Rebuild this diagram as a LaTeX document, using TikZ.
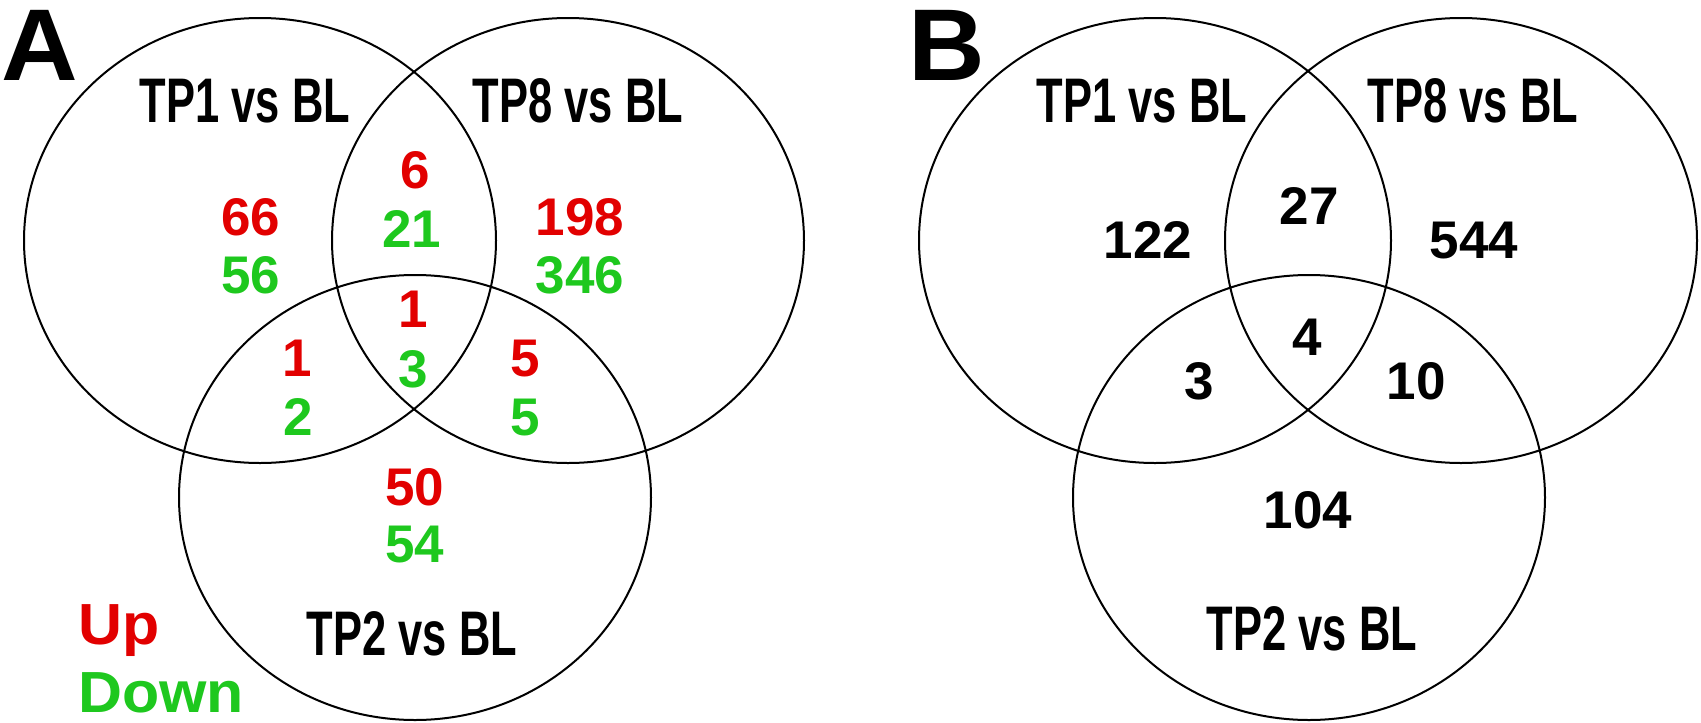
\documentclass[tikz,border=0pt]{standalone}
\usepackage{fontspec}
\setmainfont{Liberation Sans}
\newfontfamily\digf{Liberation Sans}
\newfontfamily\legf{Liberation Sans}[FakeStretch=1.05]
\newfontfamily\labf{Liberation Sans}[FakeStretch=0.69]
\newfontfamily\letf{Liberation Sans}[FakeStretch=1.04]
\definecolor{upred}{RGB}{226,0,0}
\definecolor{dngreen}{RGB}{30,200,30}
\tikzset{
  venn/.style={line width=2pt, draw=black},
  num/.style={anchor=base, inner sep=0pt, font=\digf\bfseries\fontsize{53}{60}\selectfont},
  upn/.style={num, text=upred},
  dnn/.style={num, text=dngreen},
  blk/.style={num, text=black},
  lab/.style={anchor=base, inner sep=0pt, font=\labf\bfseries\fontsize{63}{70}\selectfont},
  panel/.style={anchor=base, inner sep=0pt, font=\letf\bfseries\fontsize{102}{110}\selectfont},
  legend/.style={anchor=base west, inner sep=0pt, font=\legf\bfseries\fontsize{58}{64}\selectfont}
}
\begin{document}
\begin{tikzpicture}[x=1pt, y=-1pt]
\useasboundingbox (0,0) rectangle (1701,723);
\fill[white] (0,0) rectangle (1701,723);
% ---------- Panel A ----------
\draw[venn] (260,240.5) ellipse [x radius=236, y radius=222.5];
\draw[venn] (568,240.5) ellipse [x radius=236, y radius=222.5];
\draw[venn] (415,497.5) ellipse [x radius=236, y radius=222.5];
\node[panel] (pA) at (40,80) {A};
\node[lab] (a1) at (245,122) {TP1 vs BL};
\node[lab] (a8) at (578,122) {TP8 vs BL};
\node[lab] (a2) at (412,655) {TP2 vs BL};
\node[upn] (aU1) at (251,235) {66};
\node[dnn] (aD1) at (251,293) {56};
\node[upn] (aU18) at (415,188) {6};
\node[dnn] (aD18) at (412,247) {21};
\node[upn] (aU8) at (580,235) {198};
\node[dnn] (aD8) at (580,293) {346};
\node[upn] (aU128) at (413,327) {1};
\node[dnn] (aD128) at (413,387) {3};
\node[upn] (aU12) at (297,376) {1};
\node[dnn] (aD12) at (298,435) {2};
\node[upn] (aU28) at (525,376) {5};
\node[dnn] (aD28) at (525,435) {5};
\node[upn] (aU2) at (415,505) {50};
\node[dnn] (aD2) at (415,562) {54};
\node[legend, text=upred] (lgU) at (78,644) {Up};
\node[legend, text=dngreen] (lgD) at (78,712) {Down};
% ---------- Panel B ----------
\draw[venn] (1155,240.5) ellipse [x radius=236, y radius=222.5];
\draw[venn] (1461,240.5) ellipse [x radius=236, y radius=222.5];
\draw[venn] (1309,497.5) ellipse [x radius=236, y radius=222.5];
\node[panel] (pB) at (947,80) {B};
\node[lab] (b1) at (1142,122) {TP1 vs BL};
\node[lab] (b8) at (1473,122) {TP8 vs BL};
\node[lab] (b2) at (1312,650) {TP2 vs BL};
\node[blk] (b1n) at (1148,258) {122};
\node[blk] (b18n) at (1309,224) {27};
\node[blk] (b8n) at (1474,258) {544};
\node[blk] (b128n) at (1307,355) {4};
\node[blk] (b12n) at (1199,399) {3};
\node[blk] (b28n) at (1416,399) {10};
\node[blk] (b2n) at (1308,528) {104};
\end{tikzpicture}
\end{document}
